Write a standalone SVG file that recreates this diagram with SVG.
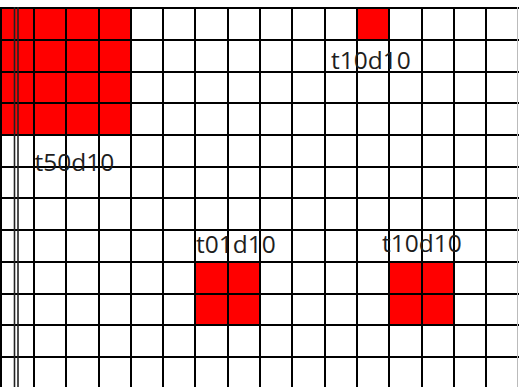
<svg xmlns="http://www.w3.org/2000/svg" width="519" height="387" viewBox="0 0 519 387">
  <style>
    .fill { fill: #ff0000; }
    .g { stroke: #000; stroke-width: 2; fill: none; }
    .thin { stroke: #222; stroke-width: 1.6; fill: none; }
    .edge { stroke: #bbb; stroke-width: 1; fill: none; }
    .lbl { font-family: "Open Sans", "Liberation Sans", sans-serif; font-size: 24.5px; fill: #1e1e1e; }
  </style>
  <rect width="519" height="387" fill="#fff"/>
  <g id="fills">
    <rect class="fill" x="1" y="8" width="130" height="127"/>
    <rect class="fill" x="357" y="8" width="32" height="32"/>
    <rect class="fill" x="195" y="262" width="65" height="63"/>
    <rect class="fill" x="389" y="262" width="65" height="63"/>
  </g>
  <g id="grid-h" class="g">
    <line x1="0" y1="8" x2="519" y2="8"/>
    <line x1="0" y1="40" x2="519" y2="40"/>
    <line x1="0" y1="72" x2="519" y2="72"/>
    <line x1="0" y1="103" x2="519" y2="103"/>
    <line x1="0" y1="135" x2="519" y2="135"/>
    <line x1="0" y1="167" x2="519" y2="167"/>
    <line x1="0" y1="198" x2="519" y2="198"/>
    <line x1="0" y1="230" x2="519" y2="230"/>
    <line x1="0" y1="262" x2="519" y2="262"/>
    <line x1="0" y1="294" x2="519" y2="294"/>
    <line x1="0" y1="325" x2="519" y2="325"/>
    <line x1="0" y1="357" x2="519" y2="357"/>
  </g>
  <g id="grid-v" class="g">
    <line x1="1" y1="7" x2="1" y2="387"/>
    <line x1="34" y1="7" x2="34" y2="387"/>
    <line x1="66" y1="7" x2="66" y2="387"/>
    <line x1="99" y1="7" x2="99" y2="387"/>
    <line x1="131" y1="7" x2="131" y2="387"/>
    <line x1="163" y1="7" x2="163" y2="387"/>
    <line x1="195" y1="7" x2="195" y2="387"/>
    <line x1="228" y1="7" x2="228" y2="387"/>
    <line x1="260" y1="7" x2="260" y2="387"/>
    <line x1="292" y1="7" x2="292" y2="387"/>
    <line x1="325" y1="7" x2="325" y2="387"/>
    <line x1="357" y1="7" x2="357" y2="387"/>
    <line x1="389" y1="7" x2="389" y2="387"/>
    <line x1="422" y1="7" x2="422" y2="387"/>
    <line x1="454" y1="7" x2="454" y2="387"/>
    <line x1="486" y1="7" x2="486" y2="387"/>
  </g>
  <g id="grid-extra">
    <line class="thin" x1="14.5" y1="7" x2="14.5" y2="387"/>
    <line class="thin" x1="18" y1="7" x2="18" y2="387"/>
    <line class="edge" x1="517.5" y1="7" x2="517.5" y2="387"/>
  </g>
  <g id="labels">
    <text class="lbl" x="331" y="69">t10d10</text>
    <text class="lbl" x="34.5" y="171">t50d10</text>
    <text class="lbl" x="196" y="252.5">t01d10</text>
    <text class="lbl" x="382" y="252">t10d10</text>
  </g>
</svg>
